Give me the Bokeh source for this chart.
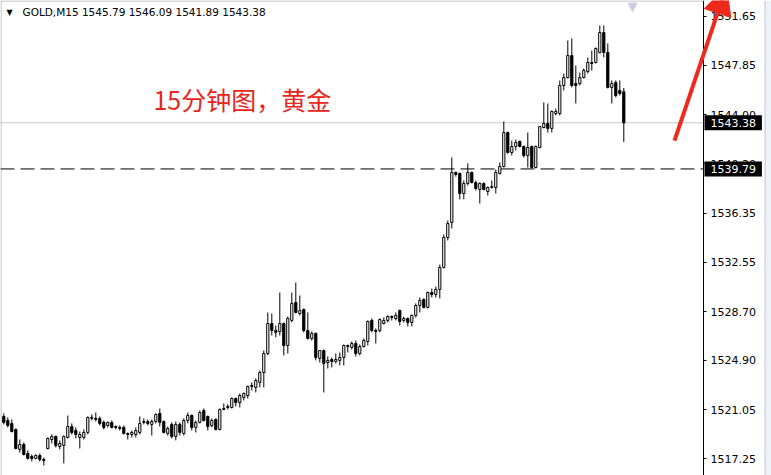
from bokeh.plotting import figure
from bokeh.models import (ColumnDataSource, FixedTicker, Label, Arrow, NormalHead,
                          BoxAnnotation, PrintfTickFormatter, Range1d)
from bokeh.embed import file_html
from bokeh.resources import INLINE
from bokeh.core.properties import value

# ---------------- data ----------------
symbol = "GOLD,M15"
note_text = "15分钟图，黄金"

opens = [
    1520.54, 1520.23, 1520.00, 1519.53, 1517.98, 1518.36, 1517.66, 1517.43, 1517.28, 1517.51,
    1517.20, 1518.05, 1518.75, 1518.99, 1518.21, 1518.29, 1518.91, 1519.76, 1519.45, 1518.91,
    1518.91, 1519.30, 1520.39, 1520.39, 1520.39, 1520.08, 1519.84, 1520.08, 1519.76, 1519.69,
    1519.69, 1519.22, 1519.14, 1519.14, 1519.30, 1520.08, 1520.15, 1519.92, 1520.15, 1520.78,
    1520.15, 1519.22, 1519.92, 1518.99, 1519.92, 1519.22, 1520.23, 1520.62, 1519.69, 1520.08,
    1521.01, 1520.54, 1519.84, 1520.31, 1519.53, 1521.09, 1521.24, 1521.24, 1521.94, 1521.63,
    1522.02, 1522.17, 1522.87, 1522.80, 1523.19, 1523.96, 1525.44, 1527.77, 1527.23, 1527.15,
    1527.77, 1526.06, 1528.01, 1529.41, 1528.55, 1528.86, 1527.23, 1526.61, 1527.00, 1525.05,
    1525.67, 1524.74, 1524.97, 1524.82, 1524.90, 1525.13, 1526.06, 1525.91, 1526.22, 1525.44,
    1525.98, 1526.37, 1528.01, 1527.23, 1527.23, 1527.77, 1528.01, 1528.32, 1528.16, 1528.78,
    1528.01, 1528.16, 1527.85, 1528.40, 1529.17, 1529.64, 1529.02, 1530.18, 1530.03, 1530.42,
    1532.13, 1534.46, 1535.63, 1539.52, 1539.44, 1537.88, 1538.66, 1539.52, 1538.74, 1538.19,
    1538.66, 1538.04, 1538.35, 1538.35, 1539.44, 1539.98, 1542.62, 1541.07, 1541.54, 1541.93,
    1541.54, 1540.84, 1541.54, 1539.90, 1541.46, 1543.01, 1543.33, 1542.94, 1544.10, 1544.10,
    1546.28, 1546.90, 1548.61, 1546.44, 1546.44, 1546.90, 1547.37, 1548.07, 1548.07, 1548.85,
    1550.40, 1548.85, 1546.13, 1546.51, 1545.89, 1545.79,
]
highs = [
    1520.78, 1520.47, 1520.31, 1519.61, 1518.75, 1518.52, 1517.90, 1517.59, 1517.59, 1517.66,
    1517.35, 1518.91, 1519.14, 1519.06, 1518.68, 1519.06, 1520.62, 1520.00, 1519.69, 1519.37,
    1519.53, 1520.54, 1520.70, 1520.85, 1520.54, 1520.23, 1520.15, 1520.23, 1519.84, 1519.84,
    1519.84, 1519.30, 1519.45, 1519.69, 1520.54, 1520.39, 1520.31, 1520.31, 1520.78, 1521.16,
    1520.23, 1519.76, 1520.08, 1520.15, 1520.08, 1520.39, 1520.85, 1520.70, 1520.23, 1521.01,
    1521.16, 1520.62, 1520.39, 1520.39, 1521.16, 1521.55, 1521.48, 1522.02, 1522.02, 1522.33,
    1522.41, 1522.95, 1523.19, 1523.50, 1524.12, 1525.67, 1528.63, 1528.55, 1527.62, 1530.18,
    1527.85, 1528.32, 1530.18, 1530.96, 1529.95, 1528.94, 1528.63, 1527.15, 1527.08, 1525.67,
    1525.75, 1525.21, 1525.13, 1525.44, 1525.52, 1526.14, 1526.14, 1526.37, 1526.45, 1526.14,
    1526.61, 1528.01, 1528.16, 1527.39, 1528.16, 1528.24, 1528.40, 1528.40, 1528.63, 1528.86,
    1528.32, 1528.24, 1528.47, 1529.33, 1529.80, 1529.72, 1530.26, 1530.49, 1530.65, 1532.36,
    1534.69, 1535.78, 1540.68, 1539.59, 1539.52, 1538.89, 1540.22, 1539.59, 1538.89, 1538.74,
    1538.74, 1538.43, 1538.89, 1539.75, 1540.29, 1543.48, 1542.70, 1542.00, 1542.08, 1542.00,
    1541.61, 1542.62, 1541.61, 1541.61, 1543.09, 1544.96, 1544.88, 1544.34, 1544.49, 1546.67,
    1547.21, 1549.78, 1549.94, 1547.84, 1547.29, 1547.60, 1548.46, 1549.00, 1549.24, 1550.95,
    1550.95, 1549.55, 1546.67, 1546.67, 1546.67, 1546.09,
]
lows = [
    1519.92, 1519.69, 1519.30, 1517.98, 1517.74, 1517.51, 1517.20, 1517.04, 1517.20, 1517.04,
    1516.73, 1517.98, 1518.44, 1518.13, 1517.98, 1516.89, 1518.83, 1519.14, 1518.83, 1518.05,
    1518.75, 1519.14, 1520.23, 1520.15, 1519.84, 1519.53, 1519.69, 1519.61, 1519.53, 1519.45,
    1519.14, 1518.75, 1518.91, 1518.91, 1519.14, 1519.92, 1519.84, 1519.06, 1520.00, 1519.76,
    1519.22, 1519.06, 1518.83, 1518.68, 1519.06, 1519.06, 1520.00, 1519.45, 1519.30, 1520.00,
    1520.15, 1519.45, 1519.69, 1519.45, 1519.45, 1521.01, 1521.09, 1521.16, 1521.32, 1521.24,
    1521.79, 1521.94, 1522.56, 1522.41, 1522.80, 1522.80, 1525.29, 1526.84, 1526.69, 1526.84,
    1525.29, 1525.44, 1527.85, 1528.55, 1528.40, 1527.08, 1526.53, 1526.45, 1524.90, 1524.74,
    1522.41, 1524.27, 1524.35, 1524.66, 1524.51, 1524.51, 1525.52, 1525.75, 1525.21, 1525.29,
    1525.91, 1526.06, 1527.08, 1526.22, 1527.08, 1527.69, 1527.85, 1528.01, 1528.01, 1527.62,
    1527.85, 1527.54, 1527.54, 1528.24, 1528.63, 1528.94, 1528.94, 1529.80, 1529.80, 1529.72,
    1532.05, 1534.23, 1535.16, 1539.20, 1537.42, 1537.42, 1538.50, 1538.66, 1538.12, 1537.10,
    1538.12, 1537.73, 1538.27, 1537.88, 1539.36, 1539.90, 1540.99, 1540.84, 1541.23, 1541.46,
    1540.68, 1539.90, 1539.83, 1539.83, 1541.38, 1542.94, 1542.62, 1542.62, 1543.95, 1543.95,
    1545.89, 1546.82, 1546.13, 1544.88, 1546.28, 1546.82, 1547.21, 1547.45, 1547.99, 1548.77,
    1548.46, 1546.05, 1544.88, 1545.35, 1545.50, 1541.89,
]
closes = [
    1520.08, 1519.84, 1519.37, 1518.05, 1518.36, 1517.59, 1517.28, 1517.28, 1517.51, 1517.20,
    1517.12, 1518.83, 1518.99, 1518.29, 1518.44, 1518.99, 1519.76, 1519.30, 1519.14, 1519.14,
    1519.30, 1520.47, 1520.47, 1520.31, 1520.00, 1519.69, 1520.08, 1519.69, 1519.69, 1519.61,
    1519.22, 1519.14, 1519.30, 1519.45, 1520.00, 1520.15, 1520.00, 1520.15, 1520.70, 1520.08,
    1519.30, 1519.61, 1518.99, 1519.92, 1519.30, 1520.23, 1520.62, 1519.69, 1520.08, 1520.85,
    1520.23, 1519.76, 1520.23, 1519.53, 1521.09, 1521.16, 1521.32, 1521.94, 1521.63, 1522.17,
    1522.33, 1522.87, 1522.95, 1523.34, 1523.96, 1525.44, 1527.77, 1527.23, 1527.08, 1527.77,
    1526.06, 1528.16, 1529.33, 1528.63, 1528.78, 1527.23, 1526.61, 1527.00, 1525.13, 1525.67,
    1524.66, 1524.90, 1524.82, 1524.97, 1525.13, 1526.06, 1525.98, 1526.22, 1525.44, 1525.98,
    1526.45, 1527.93, 1527.23, 1527.15, 1528.08, 1528.01, 1528.32, 1528.24, 1528.40, 1527.93,
    1528.16, 1527.85, 1528.40, 1529.17, 1529.56, 1529.02, 1530.18, 1530.03, 1530.42, 1532.13,
    1534.46, 1535.55, 1539.52, 1539.36, 1537.88, 1538.66, 1539.52, 1538.74, 1538.27, 1538.66,
    1538.19, 1538.35, 1538.43, 1539.52, 1539.98, 1542.62, 1541.07, 1541.54, 1541.85, 1541.54,
    1540.84, 1541.46, 1539.90, 1541.54, 1543.09, 1543.33, 1542.94, 1544.26, 1544.26, 1546.28,
    1546.90, 1548.61, 1546.28, 1546.28, 1546.90, 1547.45, 1548.07, 1547.99, 1549.16, 1550.40,
    1548.85, 1546.13, 1546.44, 1545.50, 1545.66, 1543.38,
]
price_ticks = [1517.25, 1521.05, 1524.90, 1528.70, 1532.55,
               1536.35, 1540.20, 1544.00, 1547.85, 1551.65]
level_price = 1539.79

# ---------------- figure ----------------
bars = list(range(len(opens)))
X0, XA, X1 = -0.825, 174.925, 191.925   # left edge, price-scale line, right edge
Y0, Y1 = 1515.95, 1552.89

p = figure(width=771, height=475, output_backend="svg", toolbar_location=None,
           x_range=Range1d(X0, X1), y_range=Range1d(Y0, Y1),
           x_axis_type=None, y_axis_location="right",
           min_border_left=0, min_border_top=0, min_border_bottom=0, min_border_right=0)
p.grid.visible = False
p.background_fill_color = "white"
p.border_fill_color = "white"
p.outline_line_color = None

ax = p.yaxis[0]
ax.fixed_location = XA
ax.ticker = FixedTicker(ticks=price_ticks)
ax.formatter = PrintfTickFormatter(format="%.2f")
ax.major_label_text_font = "DejaVu Sans"
ax.major_label_text_font_size = "11px"
ax.major_label_text_color = "black"
ax.axis_line_color = "black"
ax.major_tick_line_color = "black"
ax.major_tick_out = 3
ax.major_tick_in = 0
ax.minor_tick_out = 0
ax.minor_tick_in = 0
ax.major_label_standoff = 4

# chart border (left / top) and window edge
p.add_layout(BoxAnnotation(left=X0 + 0.13, right=XA, top=Y1 - 0.04, bottom=Y0 - 5,
                           fill_alpha=0, line_color="black", line_width=1))
p.add_layout(BoxAnnotation(left=XA + 15.25, right=XA + 15.6, fill_color="#c9d1dd",
                           fill_alpha=1, line_color=None))
p.add_layout(BoxAnnotation(left=XA + 15.6, right=X1, fill_color="#eef3f9",
                           fill_alpha=1, line_color=None))

# reference lines
p.segment(x0=[X0], y0=[closes[-1]], x1=[XA], y1=[closes[-1]], line_color="#c8c8c8", line_width=1)
p.segment(x0=[X0], y0=[level_price], x1=[XA], y1=[level_price], line_color="black",
          line_width=1, line_dash="14 6")

# candles
src = ColumnDataSource(dict(x=bars, o=opens, h=highs, l=lows, c=closes))
p.segment(x0="x", y0="l", x1="x", y1="h", source=src, line_color="black", line_width=1)

up = [i for i in bars if closes[i] >= opens[i]]
dn = [i for i in bars if closes[i] < opens[i]]
up_src = ColumnDataSource(dict(x=up, top=[closes[i] for i in up], bottom=[opens[i] for i in up]))
dn_src = ColumnDataSource(dict(x=dn, top=[opens[i] for i in dn], bottom=[closes[i] for i in dn]))
p.vbar(x="x", top="top", bottom="bottom", width=0.55, source=up_src,
       fill_color="white", line_color="black", line_width=1)
p.vbar(x="x", top="top", bottom="bottom", width=0.55, source=dn_src,
       fill_color="black", line_color="black", line_width=1)

# header
header = symbol + "  " + " ".join(f"{v:.2f}" for v in
                                  (opens[-1], highs[-1], lows[-1], closes[-1]))
p.add_layout(Label(x=1.425, y=1551.96, text="▼", text_font="DejaVu Sans",
                   text_font_size="8px", text_align="center", text_baseline="middle",
                   text_color="black"))
p.add_layout(Label(x=4.675, y=1552.45, text=header, text_font="DejaVu Sans",
                   text_font_size="10.5px", text_baseline="top", text_color="black"))

# chart-shift marker
p.add_layout(Label(x=157.2, y=1552.97, text="▼", text_font="DejaVu Sans",
                   text_font_size="13px", text_align="center", text_baseline="top",
                   text_color="#c9cde6"))

# annotation text
p.add_layout(Label(x=37.4, y=1546.65, text=note_text, text_font="Noto Sans CJK SC",
                   text_font_size="25px", text_baseline="top", text_color="#e8261c"))

# price tags on the price scale (drawn above the axis)
tags = [closes[-1], level_price]
p.quad(left=[XA + 0.25] * 2, right=[XA + 14.6] * 2,
       bottom=[t - 0.58 for t in tags], top=[t + 0.58 for t in tags],
       fill_color="black", line_color=None, level="overlay")
p.text(x=[XA + 1.75] * 2, y=tags, text=[f"{t:.2f}" for t in tags],
       text_font=value("DejaVu Sans"), text_font_size="11px", text_color="white",
       text_baseline="middle", text_align="left", level="overlay")

# red arrow
red = "#ee2a1e"
p.add_layout(Arrow(x_start=167.675, y_start=1542.0, x_end=180.675, y_end=1553.98,
                   line_color=red, line_width=4,
                   end=NormalHead(size=28, fill_color=red, line_color=red)))

open("out.html", "w").write(file_html(p, INLINE))
